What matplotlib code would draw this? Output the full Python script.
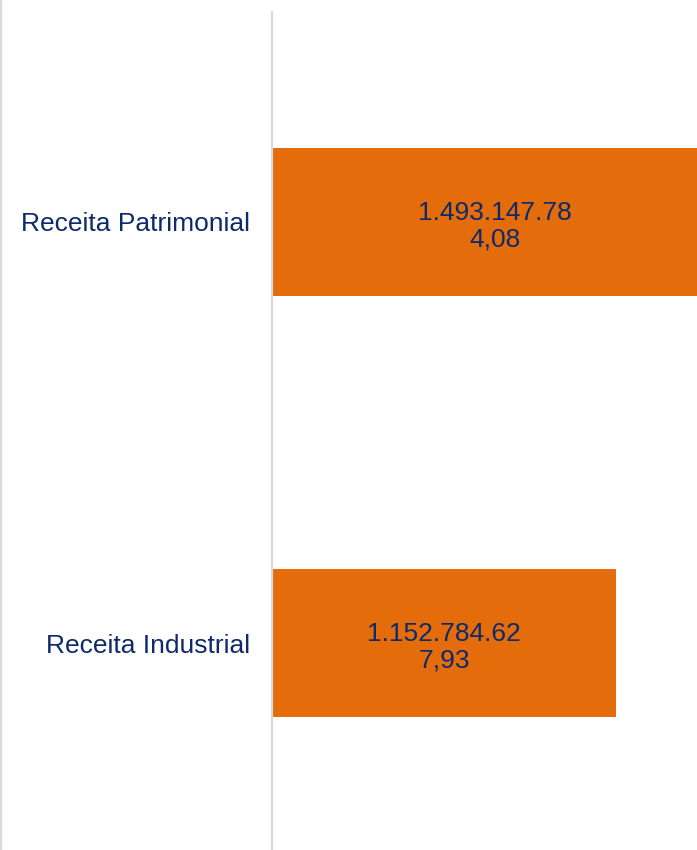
import matplotlib.pyplot as plt
from matplotlib.lines import Line2D

# receitas por categoria
categorias = ['Receita Patrimonial', 'Receita Industrial']
valores = [1493147.78, 1152784.62]
rotulos_valor = ['1.493.147.78', '1.152.784.62']
rotulos_pct = ['4,08', '7,93']

laranja = '#E46C0A'
azul = '#0F2A6B'
cinza = '#D9D9D9'

plt.rcParams['font.family'] = ['Liberation Sans', 'DejaVu Sans']

fig = plt.figure(figsize=(6.97, 8.5), dpi=100)
ax = fig.add_axes([272 / 697, -4 / 850, 425 / 697, 843 / 850])

pos = list(range(len(categorias)))
ax.barh(pos, valores, height=0.35, color=laranja)

for p, v, r, pc in zip(pos, valores, rotulos_valor, rotulos_pct):
    ax.text(v / 2, p + 0.01, r + '\n' + pc, ha='center', va='center',
            fontsize=19, color=azul, linespacing=1.12, clip_on=False)

ax.set_xlim(0, 1425000)
ax.set_ylim(1.5, -0.5)
ax.set_yticks(pos)
ax.set_yticklabels(categorias, fontsize=19, color=azul)
ax.tick_params(axis='y', length=0, pad=16)
ax.set_xticks([])

for s in ['top', 'right', 'bottom']:
    ax.spines[s].set_visible(False)
ax.spines['left'].set_color(cinza)
ax.spines['left'].set_linewidth(1.6)
ax.spines['left'].set_bounds(-0.497, 1.5)

# borda esquerda da figura
fig.add_artist(Line2D([1 / 697, 1 / 697], [0, 1], color=cinza, lw=1.6))

fig.savefig('out.png', dpi=100)
